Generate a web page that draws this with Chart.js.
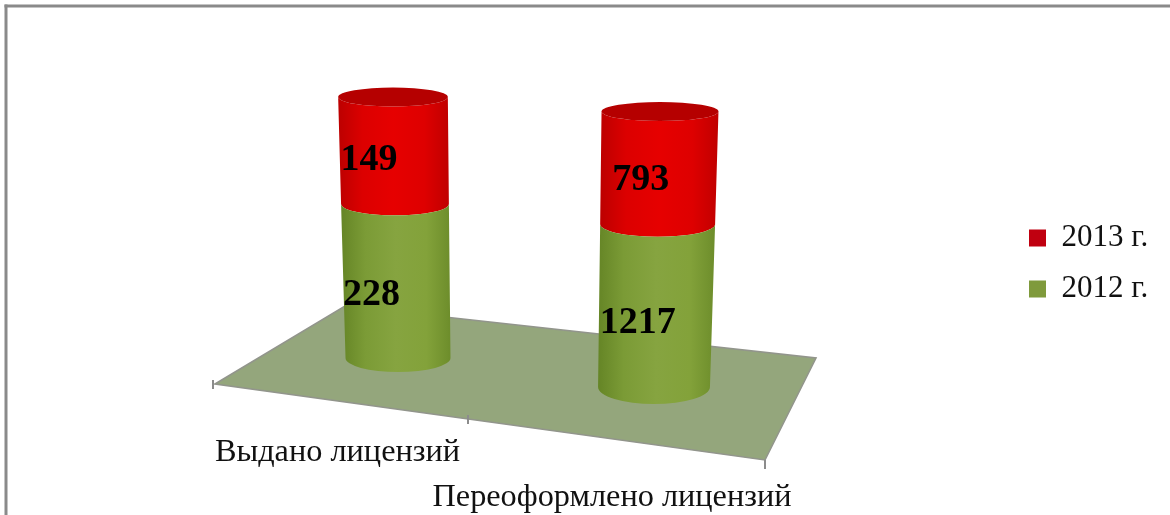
<!DOCTYPE html>
<html><head><meta charset="utf-8">
<style>html,body{margin:0;padding:0;background:#fff;overflow:hidden}#w{position:relative;width:1170px;height:515px}canvas{filter:blur(.45px)}</style>
<script src="https://cdn.jsdelivr.net/npm/chart.js@4"></script></head>
<body><div id="w"><canvas id="c" width="1170" height="515"></canvas></div>
<script>
const categories = ['Выдано лицензий', 'Переоформлено лицензий'];
const values2012 = [228, 1217];
const values2013 = [149, 793];
const seriesNames = ['2012 г.', '2013 г.'];
const legendColors = ['#7f9a3c', '#c00010'];
const totals = values2012.map((v, i) => v + values2013[i]);
const share = arr => arr.map((v, i) => v / totals[i] * 100);

const SHADES = {
  0: ['#658526', '#7b9b36', '#86a440', '#83a23a', '#6d8d2b'],
  1: ['#bc0000', '#dc0000', '#e60000', '#de0000', '#c00000']
};
const LABEL_DX = [-60.5, -42], LABEL_Y = [454, 499];
const VALUE_DX = [-25, -18];
const VALUE_DY = [[14, 18], [10, 12]];
let activeChart = null;

function frame(chart, el) {
  const sx = chart.scales.x, sy = chart.scales.y;
  const g = (el.x - sx.getPixelForValue(0)) / (sx.getPixelForValue(1) - sx.getPixelForValue(0));
  const y0 = sy.getPixelForValue(0), y1 = sy.getPixelForValue(100);
  return t => {
    const tt = Math.pow(Math.max(t, 0), 1.05);
    const bottom = y0 + 29 * g, top = y1 + 14.5 * g;
    return {
      cx: el.x + (-5 + 11 * g) * t,
      cy: bottom + (top - bottom) * tt,
      rx: el.width / 2 * (1 + 0.066 * g) * (1 + 0.045 * t),
      ry: (14 + 3 * g) + (9.5 - 14 - 3 * g) * t
    };
  };
}

Chart.BarElement.prototype.draw = function (ctx) {
  const chart = activeChart, sy = chart.scales.y;
  const ds = chart.data.datasets.findIndex((d, k) => chart.getDatasetMeta(k).data.includes(this));
  const y0 = sy.getPixelForValue(0), y1 = sy.getPixelForValue(100);
  const p = frame(chart, this);
  const a = p((y0 - this.base) / (y0 - y1)), b = p((y0 - this.y) / (y0 - y1));
  const grad = ctx.createLinearGradient(Math.min(a.cx - a.rx, b.cx - b.rx), 0, Math.max(a.cx + a.rx, b.cx + b.rx), 0);
  const stops = [0, .22, .5, .78, 1];
  stops.forEach((s, k) => grad.addColorStop(s, SHADES[ds][k]));
  ctx.save();
  ctx.fillStyle = grad;
  ctx.beginPath();
  ctx.moveTo(b.cx - b.rx, b.cy);
  ctx.ellipse(b.cx, b.cy, b.rx, b.ry, 0, Math.PI, 0, true);
  ctx.lineTo(a.cx + a.rx, a.cy);
  ctx.ellipse(a.cx, a.cy, a.rx, a.ry, 0, 0, Math.PI, false);
  ctx.closePath();
  ctx.fill();
  if (ds === chart.data.datasets.length - 1) {
    ctx.fillStyle = '#b50000';
    ctx.beginPath();
    ctx.ellipse(b.cx, b.cy, b.rx, b.ry, 0, 0, Math.PI * 2);
    ctx.fill();
  }
  ctx.restore();
};

const decor = {
  id: 'decor',
  afterLayout(chart) {
    const l = chart.legend;
    const h = l.height;
    l.left = 1029 - l.options.labels.padding;
    l.right = l.left + l.width;
    l.top = 263.5 - h / 2;
    l.bottom = l.top + h;
  },
  beforeDatasetsDraw(chart) {
    activeChart = chart;
    const c = chart.ctx;
    c.save();
    c.fillStyle = '#8a8a8a';
    c.fillRect(4.5, 4.5, 1165.5, 3);
    c.fillRect(4.5, 4.5, 3, 510.5);
    c.fillStyle = '#94a67c';
    c.strokeStyle = '#92958c';
    c.lineWidth = 1.6;
    c.beginPath();
    c.moveTo(215, 384); c.lineTo(345, 306); c.lineTo(816, 358); c.lineTo(765, 460); c.closePath();
    c.fill(); c.stroke();
    c.strokeStyle = '#8c8c8c'; c.lineWidth = 2;
    [[213, 380, 389], [468, 415, 424], [765, 460, 469]].forEach(t => {
      c.beginPath(); c.moveTo(t[0], t[1]); c.lineTo(t[0], t[2]); c.stroke();
    });
    c.restore();
  },
  afterDatasetsDraw(chart) {
    const c = chart.ctx, sy = chart.scales.y, sx = chart.scales.x;
    const y0 = sy.getPixelForValue(0), y1 = sy.getPixelForValue(100);
    c.save();
    c.fillStyle = '#000';
    c.textAlign = 'center';
    c.textBaseline = 'middle';
    c.font = 'bold 38px "Liberation Serif"';
    [values2012, values2013].forEach((vals, ds) => {
      chart.getDatasetMeta(ds).data.forEach((el, i) => {
        const p = frame(chart, el);
        const a = p((y0 - el.base) / (y0 - y1)), b = p((y0 - el.y) / (y0 - y1));
        c.fillText(String(vals[i]), (a.cx + b.cx) / 2 + VALUE_DX[i], (a.cy + b.cy) / 2 + VALUE_DY[ds][i]);
      });
    });
    c.font = '32.3px "Liberation Serif"';
    chart.data.labels.forEach((lab, i) => {
      c.fillStyle = '#111';
      c.fillText(lab, sx.getPixelForValue(i) + LABEL_DX[i], LABEL_Y[i] - 1);
    });
    c.restore();
  }
};

const chart = new Chart(document.getElementById('c'), {
  type: 'bar',
  data: {
    labels: categories,
    datasets: [
      { label: seriesNames[0], data: share(values2012), backgroundColor: legendColors[0], clip: false },
      { label: seriesNames[1], data: share(values2013), backgroundColor: legendColors[1], clip: false }
    ]
  },
  options: {
    responsive: false,
    animation: false,
    events: [],
    layout: { padding: { left: 270, right: 100, top: 97, bottom: 157 } },
    datasets: { bar: { barPercentage: 0.41, categoryPercentage: 1 } },
    scales: {
      x: { stacked: true, display: false },
      y: { stacked: true, display: false, min: 0, max: 100 }
    },
    plugins: {
      tooltip: { enabled: false },
      legend: {
        position: 'right',
        reverse: true,
        labels: {
          boxWidth: 17, boxHeight: 17, padding: 20, color: '#111',
          font: { family: '"Liberation Serif"', size: 31 }
        }
      }
    }
  },
  plugins: [decor]
});
chart.options.layout.padding.right = 1170 - 782 - chart.legend.width;
chart.update();
</script></body></html>
